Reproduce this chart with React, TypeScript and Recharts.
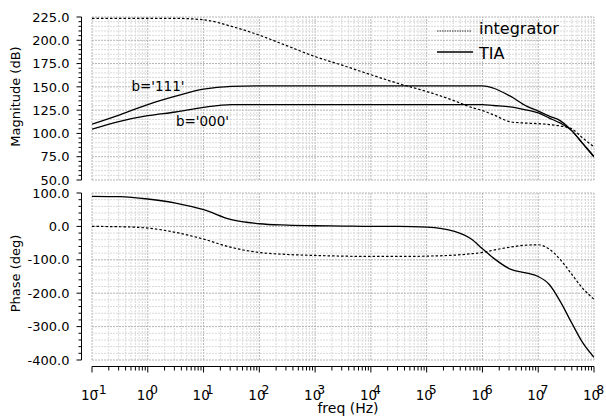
import {
  LineChart,
  Line,
  XAxis,
  YAxis,
  ReferenceLine,
  ReferenceDot,
  Legend
} from "recharts";

// frequency points (Hz)
const FREQ = [
  0.1, 0.316, 1, 3.16, 10, 31.6, 100, 316, 1000, 3160, 1e4, 3.16e4, 1e5,
  3.16e5, 6.31e5, 1e6, 1.58e6, 3.16e6, 6.31e6, 1e7, 1.58e7, 2.51e7, 3.98e7,
  6.31e7, 1e8,
];

// magnitude (dB)
const MAG_INTEGRATOR = [
  223.5, 223.5, 223.5, 223.5, 222, 215, 205.5, 194, 182.5, 173, 163, 153.5,
  145, 135, 128, 124.5, 120, 112.5, 111, 110.5, 109.5, 108, 105, 95, 85.5,
];
const MAG_TIA_111 = [
  110, 120, 131, 140, 147.5, 150.5, 151, 151, 151, 151, 151, 151, 151, 151,
  151, 151, 148.5, 140, 129, 124, 118.5, 113.5, 103, 89, 75,
];
const MAG_TIA_000 = [
  104.5, 113, 119, 123, 128, 131, 131, 131, 131, 131, 131, 131, 131, 131, 131,
  131, 130, 128.5, 125, 122, 116.5, 111, 103, 89, 75,
];

// phase (deg)
const PHASE_INTEGRATOR = [
  0, -1, -5, -18, -38, -63, -78, -84, -87, -89, -90, -90, -89, -86, -82, -78,
  -71, -62, -56, -55, -68, -100, -143, -186, -218,
];
const PHASE_TIA = [
  90, 89, 82, 70, 50, 20, 8, 4, 2, 1, 0, 0, -2, -15, -38, -67, -95, -128, -140,
  -150, -174, -226, -289, -349, -392,
];

const X_DECADES = [0.1, 1, 10, 100, 1e3, 1e4, 1e5, 1e6, 1e7, 1e8];
const MAG_DOMAIN = [50, 225];
const PHASE_DOMAIN = [-400, 100];

const FONT = "'DejaVu Sans', Verdana, sans-serif";
const PLOT_RIGHT = 594;
const MINOR_GRID = "#dadada";
const MAJOR_GRID = "#b4b4b4";

const data = FREQ.map((f, i) => ({
  freq: f,
  magInt: MAG_INTEGRATOR[i],
  mag111: MAG_TIA_111[i],
  mag000: MAG_TIA_000[i],
  phInt: PHASE_INTEGRATOR[i],
  phTia: PHASE_TIA[i],
}));

const xTicks: number[] = [];
X_DECADES.forEach((d, i) => {
  xTicks.push(d);
  if (i < X_DECADES.length - 1) {
    for (let m = 2; m <= 9; m++) xTicks.push(m * d);
  }
});

function steps(lo: number, hi: number, step: number) {
  const out: number[] = [];
  for (let v = lo; v <= hi; v += step) out.push(v);
  return out;
}
const MAG_TICKS = steps(MAG_DOMAIN[0], MAG_DOMAIN[1], 5);
const PHASE_TICKS = steps(PHASE_DOMAIN[0], PHASE_DOMAIN[1], 20);

const isDecade = (v: number) => {
  const l = Math.log10(v);
  return Math.abs(l - Math.round(l)) < 1e-6;
};

function makeYTick(majorStep: number, top: number, plotH: number) {
  return (props: any) => {
    const { x, y, payload } = props;
    const v = payload.value;
    const major = v % majorStep === 0;
    const ax = x - 10.5;
    return (
      <g>
        {v === top && (
          <line x1={ax} x2={ax} y1={y} y2={y + plotH} stroke="#000" />
        )}
        <line x1={ax - (major ? 5 : 3)} x2={ax} y1={y} y2={y} stroke="#000" />
        {major && (
          <text
            x={ax - 12}
            y={y}
            dy="0.36em"
            textAnchor="end"
            fontSize={13}
            fill="#000"
          >
            {v.toFixed(1)}
          </text>
        )}
      </g>
    );
  };
}

function XTick(props: any) {
  const { x, y, payload } = props;
  const v = payload.value;
  const major = isDecade(v);
  const ay = y + 6.5;
  const exp = Math.round(Math.log10(v));
  return (
    <g>
      {v === X_DECADES[0] && (
        <line x1={x} x2={PLOT_RIGHT} y1={ay} y2={ay} stroke="#000" />
      )}
      <line x1={x} x2={x} y1={ay} y2={ay + (major ? 6 : 4)} stroke="#000" />
      {major && (
        <text x={x - 11} y={y + 40} fontSize={13.5} fill="#000">
          10
          <tspan dx={-4} dy={-6} fontSize={12.5}>
            {exp}
          </tspan>
        </text>
      )}
    </g>
  );
}

function gridLines(yTicks: number[], yMajor: number) {
  return [
    ...xTicks.map((v) => (
      <ReferenceLine
        key={`gx-${v}`}
        x={v}
        stroke={isDecade(v) ? MAJOR_GRID : MINOR_GRID}
        strokeDasharray="2 1"
      />
    )),
    ...yTicks.map((v) => (
      <ReferenceLine
        key={`gy-${v}`}
        y={v}
        stroke={v % yMajor === 0 ? MAJOR_GRID : MINOR_GRID}
        strokeDasharray="2 1"
      />
    )),
  ];
}

function LegendBox() {
  return (
    <svg width={150} height={50} style={{ fontFamily: FONT }}>
      <line x1={7} x2={42} y1={17} y2={17} stroke="#333" strokeWidth={1} strokeDasharray="1.5 1" />
      <text x={49} y={19.5} fontSize={16} fill="#000">integrator</text>
      <line x1={7} x2={43} y1={38} y2={38} stroke="#000" strokeWidth={1.3} />
      <text x={49} y={44.5} fontSize={16} fill="#000">TIA</text>
    </svg>
  );
}

export default function App() {
  return (
    <div
      style={{
        position: "absolute",
        left: 0,
        top: 0,
        width: 606,
        height: 417,
        background: "#fff",
        fontFamily: FONT,
      }}
    >
      <div style={{ position: "absolute", left: 0, top: 0 }}>
        <LineChart
          width={606}
          height={190}
          data={data}
          margin={{ top: 17, right: 12, bottom: 10, left: 32 }}
        >
          <XAxis
            dataKey="freq"
            type="number"
            scale="log"
            domain={[0.1, 1e8]}
            allowDataOverflow
            hide
          />
          <YAxis
            type="number"
            domain={MAG_DOMAIN}
            ticks={MAG_TICKS}
            interval={0}
            width={60}
            allowDataOverflow
            axisLine={false}
            tickLine={false}
            tickSize={0}
            tickMargin={0}
            tick={makeYTick(25, MAG_DOMAIN[1], 163)}
            label={(p: any) => (
              <text
                x={p.viewBox.x - 12.5}
                y={p.viewBox.y + p.viewBox.height / 2 - 2}
                transform={`rotate(-90 ${p.viewBox.x - 12.5} ${p.viewBox.y + p.viewBox.height / 2 - 2})`}
                textAnchor="middle"
                fontSize={13}
                fill="#000"
              >
                Magnitude (dB)
              </text>
            )}
          />
          {gridLines(MAG_TICKS, 25)}
          <Line
            dataKey="magInt"
            type="monotone"
            stroke="#000"
            strokeWidth={1.2}
            strokeDasharray="2.5 2"
            dot={false}
            isAnimationActive={false}
          />
          <Line
            dataKey="mag111"
            type="monotone"
            stroke="#000"
            strokeWidth={1.3}
            dot={false}
            isAnimationActive={false}
          />
          <Line
            dataKey="mag000"
            type="monotone"
            stroke="#000"
            strokeWidth={1.3}
            dot={false}
            isAnimationActive={false}
          />
          <ReferenceDot
            x={1.52}
            y={151}
            r={0}
            fill="none"
            stroke="none"
            label={{ value: "b='111'", position: "center", fontSize: 13.5, fill: "#000" }}
          />
          <ReferenceDot
            x={9.55}
            y={113}
            r={0}
            fill="none"
            stroke="none"
            label={{ value: "b='000'", position: "center", fontSize: 13.5, fill: "#000" }}
          />
          <Legend
            verticalAlign="middle"
            layout="horizontal"
            wrapperStyle={{ position: "absolute", left: 430, top: 14, width: 150, height: 50 }}
            content={() => <LegendBox />}
          />
        </LineChart>
      </div>
      <div style={{ position: "absolute", left: 0, top: 180 }}>
        <LineChart
          width={606}
          height={237}
          data={data}
          margin={{ top: 13, right: 12, bottom: 0, left: 32 }}
        >
          <XAxis
            dataKey="freq"
            type="number"
            scale="log"
            domain={[0.1, 1e8]}
            ticks={xTicks}
            interval={0}
            height={57}
            allowDataOverflow
            axisLine={false}
            tickLine={false}
            tickSize={0}
            tickMargin={0}
            tick={XTick}
            label={(p: any) => (
              <text
                x={p.viewBox.x + p.viewBox.width / 2 + 5}
                y={p.viewBox.y + 53}
                textAnchor="middle"
                fontSize={14}
                fill="#000"
              >
                freq (Hz)
              </text>
            )}
          />
          <YAxis
            type="number"
            domain={PHASE_DOMAIN}
            ticks={PHASE_TICKS}
            interval={0}
            width={60}
            allowDataOverflow
            axisLine={false}
            tickLine={false}
            tickSize={0}
            tickMargin={0}
            tick={makeYTick(100, PHASE_DOMAIN[1], 167)}
            label={(p: any) => (
              <text
                x={p.viewBox.x - 12.5}
                y={p.viewBox.y + p.viewBox.height / 2 - 3}
                transform={`rotate(-90 ${p.viewBox.x - 12.5} ${p.viewBox.y + p.viewBox.height / 2 - 3})`}
                textAnchor="middle"
                fontSize={13}
                fill="#000"
              >
                Phase (deg)
              </text>
            )}
          />
          {gridLines(PHASE_TICKS, 100)}
          <Line
            dataKey="phInt"
            type="monotone"
            stroke="#000"
            strokeWidth={1.2}
            strokeDasharray="2.5 2"
            dot={false}
            isAnimationActive={false}
          />
          <Line
            dataKey="phTia"
            type="monotone"
            stroke="#000"
            strokeWidth={1.3}
            dot={false}
            isAnimationActive={false}
          />
        </LineChart>
      </div>
    </div>
  );
}
